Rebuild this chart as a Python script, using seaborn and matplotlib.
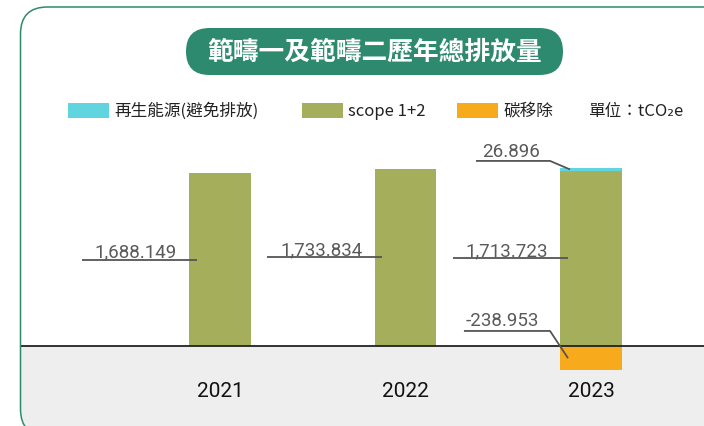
import matplotlib
matplotlib.use("Agg")
import matplotlib.pyplot as plt
from matplotlib.patches import FancyBboxPatch, Rectangle
from matplotlib.transforms import IdentityTransform
import seaborn as sns

# ---- data -------------------------------------------------------------
years = ["2021", "2022", "2023"]
scope12 = [1688.149, 1733.834, 1713.723]
renewable_years = ["2023"]
renewable = [26.896]
removal_years = ["2023"]
removal = [-238.953]

title = "範疇一及範疇二歷年總排放量"
legend_labels = ["再生能源(避免排放)", "scope 1+2", "碳移除"]
unit_label = "單位：tCO₂e"

# ---- style ------------------------------------------------------------
GREEN = "#2e8a6e"
CYAN = "#60d5df"
OLIVE = "#a5ae5b"
ORANGE = "#f6aa1c"
GREY_BAND = "#eeeeee"
LABEL_GREY = "#5a5a5a"
CJK = ["Noto Sans CJK TC", "DejaVu Sans"]
NUM = ["Roboto", "DejaVu Sans"]

W, H, DPI = 704, 427, 100
fig = plt.figure(figsize=(W / DPI, H / DPI), dpi=DPI)
fig.patch.set_facecolor("white")
px = IdentityTransform()  # pixel coordinates, origin at bottom-left

# rounded card outline
card = FancyBboxPatch((20.5, -10), 760, 427 - 8 + 10,
                      boxstyle="round,pad=0,rounding_size=27",
                      transform=px, facecolor="none", edgecolor=GREEN,
                      linewidth=1.1, zorder=10)
fig.add_artist(card)

# grey band below the baseline, clipped to the card
band = Rectangle((0, -20), W + 20, 427 - 347 + 20, transform=px,
                 facecolor=GREY_BAND, edgecolor="none", zorder=-5)
fig.add_artist(band)
band.set_clip_path(card)

# title pill
pill = FancyBboxPatch((186, 427 - 76), 377, 47,
                      boxstyle="round,pad=0,rounding_size=23.5",
                      transform=px, facecolor=GREEN, edgecolor="none", zorder=3)
fig.add_artist(pill)
fig.text(374.5 / W, (427 - 52.5) / H, title, color="white", fontsize=18.5,
         fontweight="bold", family=CJK, ha="center", va="center", zorder=4)

# legend row
legend_x = [67.5, 302, 457]
legend_cols = [CYAN, OLIVE, ORANGE]
for x0, col, lab in zip(legend_x, legend_cols, legend_labels):
    fig.add_artist(Rectangle((x0, 427 - 119), 41, 15, transform=px,
                             facecolor=col, edgecolor="none"))
    fig.text((x0 + 46.5) / W, (427 - 111.5) / H, lab, fontsize=12,
             family=CJK, color="#222222", ha="left", va="center")
fig.text(588 / W, (427 - 111.5) / H, unit_label, fontsize=12, family=CJK,
         color="#222222", ha="left", va="center")

# ---- bars -------------------------------------------------------------
ax = fig.add_axes([20 / W, 0, 684 / W, (427 - 130) / H])
ax.patch.set_alpha(0)
BAR_W = 0.334

sns.barplot(x=years, y=scope12, order=years, color=OLIVE, saturation=1,
            width=BAR_W, linewidth=0, errorbar=None, ax=ax, zorder=2)
sns.barplot(x=renewable_years, y=renewable, order=years, color=CYAN,
            saturation=1, width=BAR_W, linewidth=0, errorbar=None, ax=ax,
            bottom=[scope12[2]], zorder=2)
sns.barplot(x=removal_years, y=removal, order=years, color=ORANGE,
            saturation=1, width=BAR_W, linewidth=0, errorbar=None, ax=ax,
            zorder=2)

ax.set_xlim(-1.078, 2.609)
ax.set_ylim(-783, 2123)
ax.axhline(0, color="#222222", linewidth=1.3, zorder=6)
ax.set_xticks([])
ax.set_yticks([])
ax.set_xlabel("")
ax.set_ylabel("")
for s in ax.spines.values():
    s.set_visible(False)

# year labels inside the grey band
for i, yr in enumerate(years):
    ax.text(i, -440, yr, ha="center", va="center", fontsize=15,
            family=["Roboto", "DejaVu Sans"], color="#111111", zorder=7)

# ---- value call-outs --------------------------------------------------
LINE_KW = dict(color="#555555", linewidth=1.3, zorder=7,
               solid_capstyle="butt")
TXT_KW = dict(fontsize=13.5, family=NUM, color=LABEL_GREY, ha="left",
              va="baseline", textcoords="offset points", zorder=7)

for i, v in enumerate(scope12):
    y = v / 2
    ax.plot([i - 0.744, i - 0.124], [y, y], **LINE_KW)
    ax.annotate(f"{v:,.3f}", (i - 0.675, y), xytext=(0, 2.5), **TXT_KW)

# renewable (top of 2023 stack)
top = scope12[2] + renewable[0]
y_lab = top + 70
ax.plot([2 - 0.62, 2 - 0.221, 2 - 0.113],
        [y_lab, y_lab, scope12[2] + renewable[0] / 2], **LINE_KW)
ax.annotate(f"{renewable[0]:.3f}", (2 - 0.588, y_lab), xytext=(0, 3.5),
            **TXT_KW)

# carbon removal (below baseline)
y_lab = 147
ax.plot([2 - 0.685, 2 - 0.221, 2 - 0.124],
        [y_lab, y_lab, removal[0] / 2], **LINE_KW)
ax.annotate(f"{removal[0]:.3f}", (2 - 0.674, y_lab), xytext=(0, 4.3),
            **TXT_KW)

fig.savefig("out.png", dpi=DPI)
